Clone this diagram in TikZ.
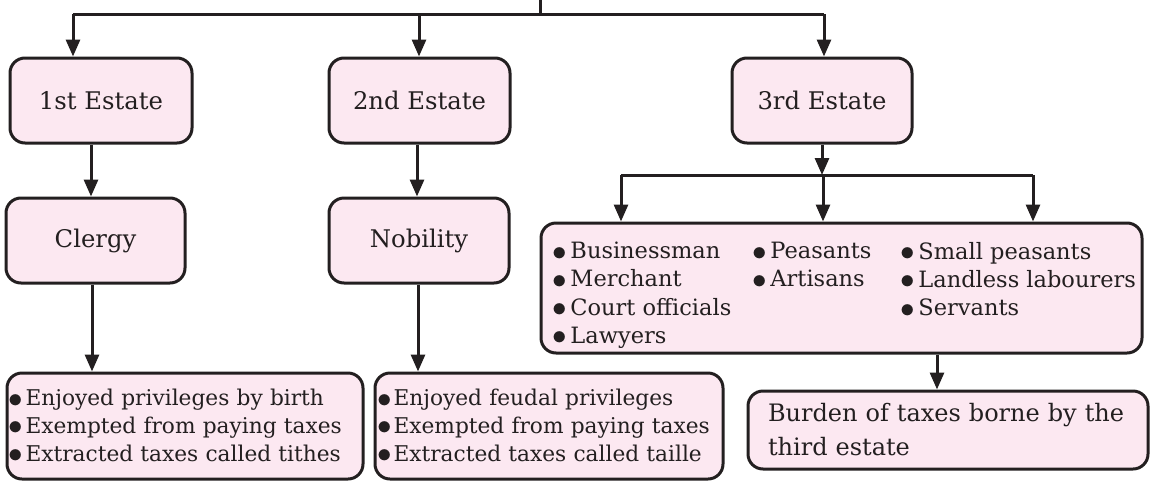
\documentclass[tikz,border=0pt]{standalone}
\usepackage{fontspec}
\setmainfont{DejaVu Serif}
\usetikzlibrary{arrows.meta}
\definecolor{boxpink}{RGB}{252,232,241}
\definecolor{ink}{RGB}{35,31,32}
\newcommand{\bul}{\raisebox{-1.4pt}{\scalebox{1.4}{$\bullet$}}}
\begin{document}
\begin{tikzpicture}[x=1pt,y=-1pt,
  every node/.style={font=\fontsize{24.3}{27.5}\selectfont, text=ink},
  bx/.style={draw=ink, line width=3pt, fill=boxpink, rounded corners=15pt, inner sep=0pt},
  ln/.style={draw=ink, line width=3pt},
  arr/.style={ln, -{Triangle[length=17pt,width=14pt]}},
  smalltext/.style={font=\fontsize{21.7}{27.8}\selectfont},
  coltext/.style={anchor=north west, align=left, inner sep=0pt, font=\fontsize{22.5}{28.2}\selectfont}]
\useasboundingbox (0,0) rectangle (1154,480);

% level 1
\node[bx, minimum width=182pt, minimum height=85pt] (e1) at (101,100.5) {1st Estate};
\node[bx, minimum width=181pt, minimum height=85pt] (e2) at (419.5,100.5) {2nd Estate};
\node[bx, minimum width=180pt, minimum height=85pt] (e3) at (822,100.5) {3rd Estate};

% level 2
\node[bx, minimum width=179pt, minimum height=85pt] (clergy) at (95.5,240.5) {Clergy};
\node[bx, minimum width=180pt, minimum height=85pt] (nobility) at (419,240.5) {Nobility};
\node[bx, minimum width=601pt, minimum height=130pt] (third) at (841.5,288) {};

% level 3
\node[bx, smalltext, minimum width=356pt, minimum height=106pt, text width=352pt, inner xsep=2pt, align=left] (b1) at (185,426)
  {\bul\hspace{2pt}Enjoyed privileges by birth\\ \bul\hspace{2pt}Exempted from paying taxes\\ \bul\hspace{2pt}Extracted taxes called tithes};
\node[bx, smalltext, minimum width=348pt, minimum height=106pt, text width=344pt, inner xsep=2pt, align=left] (b2) at (549,426)
  {\bul\hspace{2pt}Enjoyed feudal privileges\\ \bul\hspace{2pt}Exempted from paying taxes\\ \bul\hspace{2pt}Extracted taxes called taille};
\node[bx, minimum width=400pt, minimum height=78pt, text width=360pt, inner xsep=20pt, align=left,
  font=\fontsize{24}{34}\selectfont] (burden) at (948,430)
  {Burden of taxes borne by the\\ third estate};

% columns of the third-estate box
\node[coltext] (c1) at (552,242) {\bul\,Businessman\\ \bul\,Merchant\\ \bul\,Court officials\\ \bul\,Lawyers};
\node[coltext] (c2) at (752,242) {\bul\,Peasants\\ \bul\,Artisans};
\node[coltext] (c3) at (900,242) {\bul\,Small peasants\\ \bul\,Landless labourers\\ \bul\,Servants};

% top connectors
\coordinate (top) at (540,0);
\coordinate (jt) at (540,14);
\coordinate (tl) at (73,14);
\coordinate (tm) at (419,14);
\coordinate (tr) at (824,14);
\draw[ln] (top) -- (jt);
\draw[ln] (tl) -- (tr);
\draw[arr] (tl) -- (tl |- e1.north);
\draw[arr] (tm) -- (tm |- e2.north);
\draw[arr] (tr) -- (tr |- e3.north);

% level 1 to 2
\coordinate (x1) at (91,0);
\coordinate (x2) at (417,0);
\draw[arr] (x1 |- e1.south) -- (x1 |- clergy.north);
\draw[arr] (x2 |- e2.south) -- (x2 |- nobility.north);

% 3rd estate branching
\coordinate (j3) at (822,175);
\coordinate (hl) at (621,175);
\coordinate (hm) at (823,175);
\coordinate (hr) at (1033,175);
\draw[arr] (e3.south) -- (j3);
\draw[ln] (hl) -- (hr);
\draw[arr] (hl) -- (hl |- third.north);
\draw[arr] (hm) -- (hm |- third.north);
\draw[arr] (hr) -- (hr |- third.north);

% level 2 to 3
\coordinate (x3) at (92,0);
\coordinate (x4) at (418,0);
\coordinate (x5) at (937,0);
\draw[arr] (x3 |- clergy.south) -- (x3 |- b1.north);
\draw[arr] (x4 |- nobility.south) -- (x4 |- b2.north);
\draw[arr] (x5 |- third.south) -- (x5 |- burden.north);
\end{tikzpicture}
\end{document}
